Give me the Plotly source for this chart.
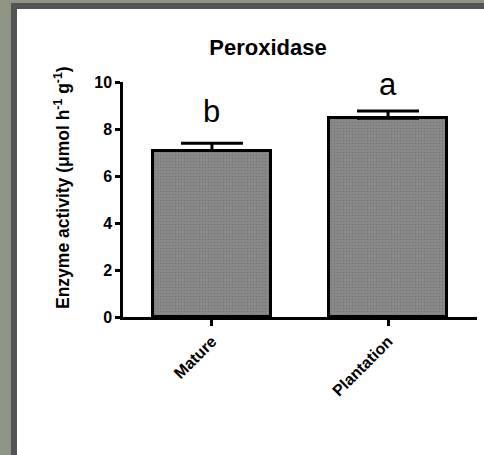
import plotly.graph_objects as go

# ---- data ----
categories = ["Mature", "Plantation"]
values = [7.08, 8.46]
errors = [0.31, 0.31]
letters = ["b", "a"]
letter_y = [8.74, 9.89]
y_ticks = [0, 2, 4, 6, 8, 10]
title_text = "Peroxidase"
y_title = "Enzyme activity (μmol h<sup>-1</sup> g<sup>-1</sup>)"

W, H = 484, 455
# plot area in pixels (left, right, top, bottom)
PL, PR, PT, PB = 123, 477, 82, 317


def fx(px):
    return px / W


def fy(py):
    return 1 - py / H


FONT = "Arial, 'Liberation Sans', sans-serif"

fig = go.Figure()
fig.add_trace(go.Bar(
    x=list(range(len(categories))),
    y=values,
    width=0.67,
    marker=dict(
        color="#848484",
        line=dict(color="black", width=3),
        pattern=dict(shape=".", fgcolor="#666666", bgcolor="#8c8c8c", size=3, solidity=0.4),
    ),
    error_y=dict(type="data", symmetric=False, array=errors, arrayminus=[0] * len(errors),
                 color="black", thickness=3, width=31),
    showlegend=False,
))

# background frame drawn as plain coloured boxes (left and top strips)
def frame_box(x0, y0, w, h, color):
    fig.add_annotation(x=fx(x0), y=fy(y0), xref="paper", yref="paper", xanchor="left", yanchor="top",
                       text=" ", showarrow=False, width=w, height=h, bgcolor=color,
                       borderpad=0, borderwidth=0, font=dict(size=1, color=color))

frame_box(0, 0, 17, H, "#8e9585")
frame_box(0, 0, W, 9, "#8e9585")
frame_box(11, 3, 6, H - 3, "#545454")
frame_box(11, 3, W - 11, 6, "#545454")

for i, (lt, ly) in enumerate(zip(letters, letter_y)):
    fig.add_annotation(x=i, y=ly, text=lt, showarrow=False, xref="x", yref="y",
                       xanchor="center", yanchor="middle",
                       font=dict(family=FONT, size=31, color="black"))

# y-axis title
fig.add_annotation(x=fx(62), y=fy(187), xref="paper", yref="paper", text="<b>" + y_title + "</b>",
                   textangle=-90, showarrow=False, xanchor="center", yanchor="middle",
                   font=dict(family=FONT, size=17.5, color="black"))

fig.update_layout(
    width=W, height=H,
    margin=dict(l=0, r=0, t=0, b=0, pad=0),
    paper_bgcolor="white",
    plot_bgcolor="white",
    title=dict(text="<b>" + title_text + "</b>", xref="container", yref="container",
               x=268 / W, y=1 - 47 / H, xanchor="center", yanchor="middle",
               font=dict(family=FONT, size=22, color="black")),
    bargap=0,
    xaxis=dict(
        domain=[fx(PL), fx(PR)],
        range=[-0.505, 1.505],
        tickvals=list(range(len(categories))),
        ticktext=["<b>" + c + "</b>" for c in categories],
        tickangle=-45,
        ticks="outside", ticklen=6, tickwidth=2.5, tickcolor="black",
        showline=True, linecolor="black", linewidth=2.5,
        showgrid=False, zeroline=False, automargin=False,
        tickfont=dict(family=FONT, size=16, color="black"),
    ),
    yaxis=dict(
        domain=[fy(PB), fy(PT)],
        range=[0, 10],
        tickvals=y_ticks,
        ticktext=["<b>%d</b>" % v for v in y_ticks],
        ticks="outside", ticklen=5, tickwidth=2.5, tickcolor="black",
        showline=True, linecolor="black", linewidth=2.5,
        showgrid=False, zeroline=False, automargin=False,
        tickfont=dict(family=FONT, size=16, color="black"),
    ),
)

fig.write_html("out.html", config={"displayModeBar": False})
